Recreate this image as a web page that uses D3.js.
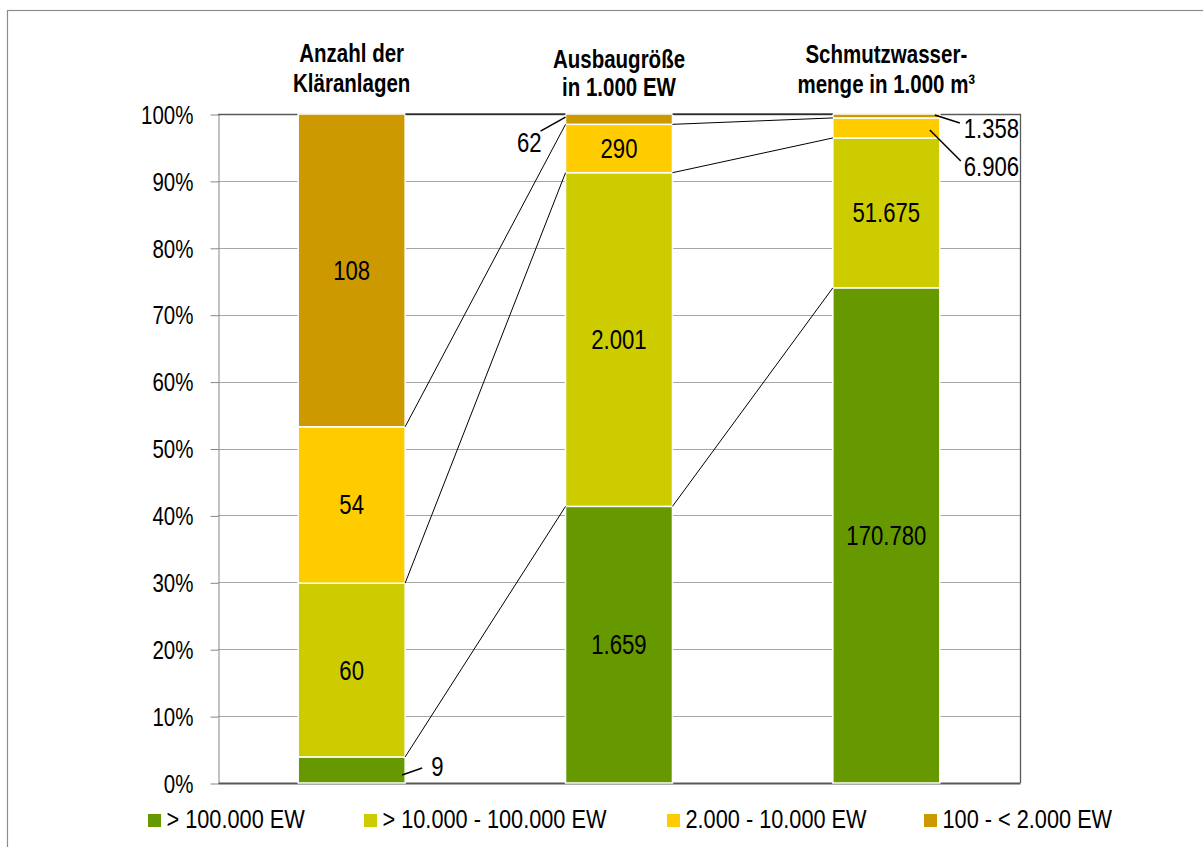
<!DOCTYPE html>
<html><head><meta charset="utf-8">
<script src="https://cdn.jsdelivr.net/npm/d3@7"></script>
<style>
body{margin:0;background:#fff}
text{font-family:"Liberation Sans Narrow","Arial Narrow","Liberation Sans",Arial,sans-serif;fill:#000}
</style></head><body>
<svg id="c" width="1203" height="847"></svg>
<script>
// ---- data ----
const categories = ["Anzahl der Kläranlagen", "Ausbaugröße in 1.000 EW", "Schmutzwassermenge in 1.000 m³"];
const titleLines = [["Anzahl der", "Kläranlagen"], ["Ausbaugröße", "in 1.000 EW"], ["Schmutzwasser-", "menge in 1.000 m³"]];
const seriesNames = ["> 100.000 EW", "> 10.000 - 100.000 EW", "2.000 - 10.000 EW", "100 - < 2.000 EW"];
const over100k = [9, 1659, 170780];
const from10kTo100k = [60, 2001, 51675];
const from2kTo10k = [54, 290, 6906];
const from100To2k = [108, 62, 1358];
const yTickValues = [0, 0.1, 0.2, 0.3, 0.4, 0.5, 0.6, 0.7, 0.8, 0.9, 1.0];

// ---- styling / layout ----
const colors = ["#669900", "#CCCC00", "#FFCC00", "#CC9900"];
const seriesArrays = [over100k, from10kTo100k, from2kTo10k, from100To2k];
const keys = ["s0", "s1", "s2", "s3"];
const table = categories.map((c, i) => {
  const row = {cat: c};
  keys.forEach((k, j) => row[k] = seriesArrays[j][i]);
  return row;
});
const de = d3.formatLocale({decimal: ",", thousands: ".", grouping: [3], currency: ["", " €"]});
const fmt = de.format(",");
const pct = d3.format(".0%");

// narrow-looking text: condensed horizontally around its anchor point
const SX = 0.82;
function ntext(parent, x, y, str, size, anchor, weight, dy) {
  return parent.append("text")
    .attr("transform", `translate(${x},${y}) scale(${SX},1)`)
    .attr("text-anchor", anchor || "start")
    .attr("dy", dy || null)
    .style("font-size", size + "px")
    .style("font-weight", weight || "normal")
    .text(str);
}

const svg = d3.select("#c");
const plot = {left: 218, right: 1020, top: 114, bottom: 783};

const x = d3.scaleBand().domain(categories).range([plot.left, plot.right]).paddingInner(0.6).paddingOuter(0.3);
const y = d3.scaleLinear().domain([0, 1]).range([plot.bottom, plot.top]);

const stack = d3.stack().keys(keys).offset(d3.stackOffsetExpand)(table);

// outer chart border
svg.append("rect").attr("x", 7.5).attr("y", 10.5).attr("width", 1300).attr("height", 900)
  .attr("fill", "none").attr("stroke", "#8c8c8c").attr("stroke-width", 1.2);

// gridlines
svg.append("g").selectAll("line").data(yTickValues.filter(v => v > 0 && v < 1)).join("line")
  .attr("x1", plot.left).attr("x2", plot.right)
  .attr("y1", d => Math.round(y(d)) + 0.5).attr("y2", d => Math.round(y(d)) + 0.5)
  .attr("stroke", "#a6a6a6").attr("stroke-width", 1);

// y axis
const yAxis = d3.axisLeft(y).tickValues(yTickValues).tickFormat("").tickSize(8).tickSizeOuter(0);
const yg = svg.append("g").attr("transform", `translate(${plot.left + 0.5},0.5)`).call(yAxis);
yg.select(".domain").attr("stroke", "#868686");
yg.selectAll(".tick line").attr("stroke", "#868686");
yg.selectAll(".tick").each(function(d) {
  ntext(d3.select(this), -25, 0, pct(d), 25, "end", "normal", "0.35em");
});

// plot border top & right
svg.append("path")
  .attr("d", `M${plot.left},${plot.top + 0.5}H${plot.right + 0.5}V${plot.bottom}`)
  .attr("fill", "none").attr("stroke", "#595959").attr("stroke-width", 1.3);

// x axis line
const xAxis = d3.axisBottom(x).tickSize(0).tickFormat("");
const xg = svg.append("g").attr("transform", `translate(0,${plot.bottom})`).call(xAxis);
xg.select(".domain").attr("stroke", "#595959").attr("stroke-width", 2);

// bars
const bw = x.bandwidth();
svg.append("g").selectAll("g").data(stack).join("g")
  .attr("fill", (d, i) => colors[i])
  .selectAll("rect").data(d => d).join("rect")
  .attr("x", d => x(d.data.cat))
  .attr("y", d => y(d[1]))
  .attr("width", bw)
  .attr("height", d => y(d[0]) - y(d[1]))
  .attr("stroke", "#fff").attr("stroke-width", 1.5);

// series lines
const sl = svg.append("g").attr("stroke", "#000").attr("stroke-width", 1);
stack.forEach(s => {
  for (let i = 0; i < categories.length - 1; i++) {
    sl.append("line")
      .attr("x1", x(categories[i]) + bw).attr("y1", y(s[i][1]))
      .attr("x2", x(categories[i + 1])).attr("y2", y(s[i + 1][1]));
  }
});

// data labels (small segments get an outside label with a leader line)
const outside = {
  "0-0": {tx: 26, ty: -3, lx1: -3, ly1: 5, lx2: 17, ly2: -2, anchor: "start"},
  "3-1": {tx: -24, ty: 23, lx1: 0, ly1: -2, lx2: -25, ly2: 12, anchor: "end"},
  "3-2": {tx: 24, ty: 13, lx1: -5, ly1: -1, lx2: 20, ly2: 7, anchor: "start"},
  "2-2": {tx: 24, ty: 39, lx1: -10, ly1: 2, lx2: 21, ly2: 33, anchor: "start"}
};
const lg = svg.append("g");
stack.forEach((s, k) => {
  s.forEach((d, i) => {
    const key = k + "-" + i;
    const cx = x(d.data.cat) + bw / 2;
    const cy = (y(d[0]) + y(d[1])) / 2;
    const txt = fmt(seriesArrays[k][i]);
    const o = outside[key];
    if (o) {
      const ex = o.anchor === "start" ? x(d.data.cat) + bw : x(d.data.cat);
      lg.append("line").attr("x1", ex + o.lx1).attr("y1", cy + o.ly1)
        .attr("x2", ex + o.lx2).attr("y2", cy + o.ly2)
        .attr("stroke", "#000").attr("stroke-width", 1.5);
      ntext(lg, ex + o.tx, cy + o.ty, txt, 27, o.anchor, "normal", "0.35em");
    } else {
      ntext(lg, cx, cy, txt, 27, "middle", "normal", "0.35em");
    }
  });
});

// category titles
const titleBase = [[62, 92], [68, 96], [63, 93]];
categories.forEach((c, i) => {
  titleLines[i].forEach((line, j) => {
    ntext(svg, x(c) + bw / 2, titleBase[i][j], line, 25, "middle", "bold");
  });
});

// legend
const legendX = [148, 364, 667, 924];
const legend = svg.append("g");
seriesNames.forEach((n, i) => {
  legend.append("rect").attr("x", legendX[i]).attr("y", 814).attr("width", 13).attr("height", 13).attr("fill", colors[i]);
  ntext(legend, legendX[i] + 18.5, 828, n, 26.5, "start");
});
</script>
</body></html>
